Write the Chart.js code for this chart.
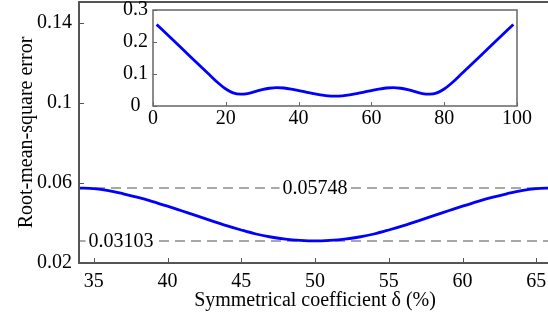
<!DOCTYPE html>
<html>
<head>
<meta charset="utf-8">
<script src="https://cdn.jsdelivr.net/npm/chart.js@4.4.1/dist/chart.umd.min.js"></script>
<style>
  html, body { margin: 0; padding: 0; background: #fff; overflow: hidden; }
  #wrap { position: relative; width: 548px; height: 323px; overflow: hidden; }
  #mainChart { position: absolute; left: 0; top: 0; }
  #insetChart { position: absolute; left: 100px; top: 0; }
</style>
</head>
<body>
<div id="wrap">
  <canvas id="mainChart" width="551" height="323"></canvas>
  <canvas id="insetChart" width="440" height="129"></canvas>
</div>
<script>
// main plot: zoom on 34..66 %
const deltaMain = [34, 35, 36, 37, 38, 39, 40, 41, 42, 43, 44, 45, 46, 47, 48, 49, 50,
    51, 52, 53, 54, 55, 56, 57, 58, 59, 60, 61, 62, 63, 64, 65, 66];
const rmseMain = [0.05748, 0.0572, 0.0562, 0.0546, 0.0528, 0.0507, 0.0484, 0.0460, 0.0436, 0.0411,
    0.0387, 0.0365, 0.0345, 0.0330, 0.0319, 0.0313, 0.03103,
    0.0313, 0.0319, 0.0330, 0.0345, 0.0365, 0.0387, 0.0411, 0.0436, 0.0460, 0.0484,
    0.0507, 0.0528, 0.0546, 0.0562, 0.0572, 0.05748];

// inset: full range 1..99 %
const deltaFull = [1, 5, 10, 15, 18, 20, 22, 24, 26, 28, 30, 32, 34, 36, 38, 40, 42, 44, 46, 48, 50,
    52, 54, 56, 58, 60, 62, 64, 66, 68, 70, 72, 74, 76, 78, 80, 82, 85, 90, 95, 99];
const rmseFull = [0.255, 0.212, 0.157, 0.103, 0.071, 0.053, 0.041, 0.037, 0.039, 0.045, 0.051, 0.0555,
    0.0575, 0.0562, 0.0528, 0.0484, 0.0436, 0.0387, 0.0345, 0.0319, 0.0310,
    0.0319, 0.0345, 0.0387, 0.0436, 0.0484, 0.0528, 0.0562, 0.0575, 0.0555, 0.051, 0.045, 0.039,
    0.037, 0.041, 0.053, 0.071, 0.103, 0.157, 0.212, 0.255];

// reference levels (max / min of main curve)
const refValues = [0.05748, 0.03103];
const refLabels = ['0.05748', '0.03103'];

const mainXTicks = [35, 40, 45, 50, 55, 60, 65];
const mainYTicks = [0.02, 0.06, 0.1, 0.14];
const insetXTicks = [0, 20, 40, 60, 80, 100];
const insetYTicks = [0, 0.1, 0.2, 0.3];

const serif = '"Liberation Serif", "Times New Roman", serif';
const fontSize = 20;
const curveColor = '#0000ff';

// box around plot area + short inward ticks
const framePlugin = {
    id: 'frame',
    afterDraw(chart, args, opts) {
        const { ctx, chartArea: a, scales } = chart;
        ctx.save();
        ctx.strokeStyle = opts.color;
        ctx.lineWidth = opts.width;
        ctx.strokeRect(a.left, a.top, a.right - a.left, a.bottom - a.top);
        ctx.lineWidth = 1;
        ctx.beginPath();
        scales.x.ticks.forEach(t => {
            const px = Math.round(scales.x.getPixelForValue(t.value)) + 0.5;
            ctx.moveTo(px, a.bottom);
            ctx.lineTo(px, a.bottom - opts.tick);
        });
        scales.y.ticks.forEach(t => {
            const py = Math.round(scales.y.getPixelForValue(t.value)) + 0.5;
            ctx.moveTo(a.left, py);
            ctx.lineTo(a.left + opts.tick, py);
        });
        ctx.stroke();
        ctx.restore();
    }
};

// text on the dashed lines, with white box behind
const refLabelPlugin = {
    id: 'refLabels',
    afterDatasetsDraw(chart, args, opts) {
        const { ctx, scales } = chart;
        ctx.save();
        ctx.font = fontSize + 'px ' + serif;
        ctx.textAlign = 'center';
        ctx.textBaseline = 'middle';
        refValues.forEach((v, i) => {
            const px = scales.x.getPixelForValue(opts.at[i]);
            const py = scales.y.getPixelForValue(v);
            const w = ctx.measureText(refLabels[i]).width + 6;
            ctx.fillStyle = '#fff';
            ctx.fillRect(px - w / 2, py - 9, w, 18);
            ctx.fillStyle = '#000';
            ctx.fillText(refLabels[i], px, py + 1);
        });
        ctx.restore();
    }
};

const mainX0 = 34;
const mainX1 = 66;

const mainDatasets = [{
    data: deltaMain.map((d, i) => ({ x: d, y: rmseMain[i] })),
    borderColor: curveColor,
    borderWidth: 2.8,
    pointRadius: 0,
    showLine: true,
    cubicInterpolationMode: 'monotone'
}];
refValues.forEach(v => {
    mainDatasets.push({
        data: [{ x: mainX0, y: v }, { x: mainX1, y: v }],
        borderColor: '#8c8c8c',
        borderWidth: 1.5,
        borderDash: [10, 6],
        pointRadius: 0,
        showLine: true
    });
});

new Chart(document.getElementById('mainChart'), {
    type: 'scatter',
    data: { datasets: mainDatasets },
    options: {
        responsive: false,
        animation: false,
        devicePixelRatio: 1,
        layout: { padding: { top: 2, right: 0, bottom: 0, left: 0 } },
        plugins: {
            legend: { display: false },
            tooltip: { enabled: false },
            frame: { color: '#555555', width: 2, tick: 5 },
            refLabels: { at: [50, 36.85] }
        },
        scales: {
            x: {
                type: 'linear',
                min: mainX0,
                max: mainX1,
                afterBuildTicks: s => { s.ticks = mainXTicks.map(v => ({ value: v })); },
                afterFit: s => { s.height = 60; s.paddingLeft = 0; s.paddingRight = 0; },
                grid: { display: false, drawTicks: false },
                border: { display: false },
                ticks: { color: '#000', font: { family: serif, size: fontSize }, padding: 7, maxRotation: 0 },
                title: {
                    display: true,
                    text: 'Symmetrical coefficient δ (%)',
                    color: '#000',
                    font: { family: serif, size: fontSize },
                    padding: { top: 0, bottom: 10 }
                }
            },
            y: {
                type: 'linear',
                min: 0.02,
                max: 0.1505,
                afterBuildTicks: s => { s.ticks = mainYTicks.map(v => ({ value: v })); },
                afterFit: s => { s.width = 79; s.paddingTop = 0; s.paddingBottom = 0; },
                grid: { display: false, drawTicks: false },
                border: { display: false },
                ticks: {
                    color: '#000',
                    font: { family: serif, size: fontSize },
                    padding: 7,
                    callback: v => String(+v.toFixed(4))
                },
                title: {
                    display: true,
                    text: 'Root-mean-square error',
                    color: '#000',
                    font: { family: serif, size: fontSize },
                    padding: { top: 15, bottom: 0 }
                }
            }
        }
    },
    plugins: [framePlugin, refLabelPlugin]
});

// inset chart
new Chart(document.getElementById('insetChart'), {
    type: 'scatter',
    data: {
        datasets: [{
            data: deltaFull.map((d, i) => ({ x: d, y: rmseFull[i] })),
            borderColor: curveColor,
            borderWidth: 2.8,
            pointRadius: 0,
            showLine: true,
            cubicInterpolationMode: 'monotone'
        }]
    },
    options: {
        responsive: false,
        animation: false,
        devicePixelRatio: 1,
        layout: { padding: { top: 10, right: 23, bottom: 0, left: 0 } },
        plugins: {
            legend: { display: false },
            tooltip: { enabled: false },
            frame: { color: '#666666', width: 1.5, tick: 4 }
        },
        scales: {
            x: {
                type: 'linear',
                min: 0,
                max: 100,
                afterBuildTicks: s => { s.ticks = insetXTicks.map(v => ({ value: v })); },
                afterFit: s => { s.height = 23; s.paddingLeft = 0; s.paddingRight = 0; },
                grid: { display: false, drawTicks: false },
                border: { display: false },
                ticks: { color: '#000', font: { family: serif, size: fontSize }, padding: 1, maxRotation: 0 }
            },
            y: {
                type: 'linear',
                min: 0,
                max: 0.3,
                afterBuildTicks: s => { s.ticks = insetYTicks.map(v => ({ value: v })); },
                afterFit: s => { s.width = 53; s.paddingTop = 0; s.paddingBottom = 0; },
                grid: { display: false, drawTicks: false },
                border: { display: false },
                ticks: {
                    color: '#000',
                    font: { family: serif, size: fontSize },
                    padding: 5,
                    crossAlign: 'center',
                    callback: v => String(+v.toFixed(3))
                }
            }
        }
    },
    plugins: [framePlugin]
});
</script>
</body>
</html>
